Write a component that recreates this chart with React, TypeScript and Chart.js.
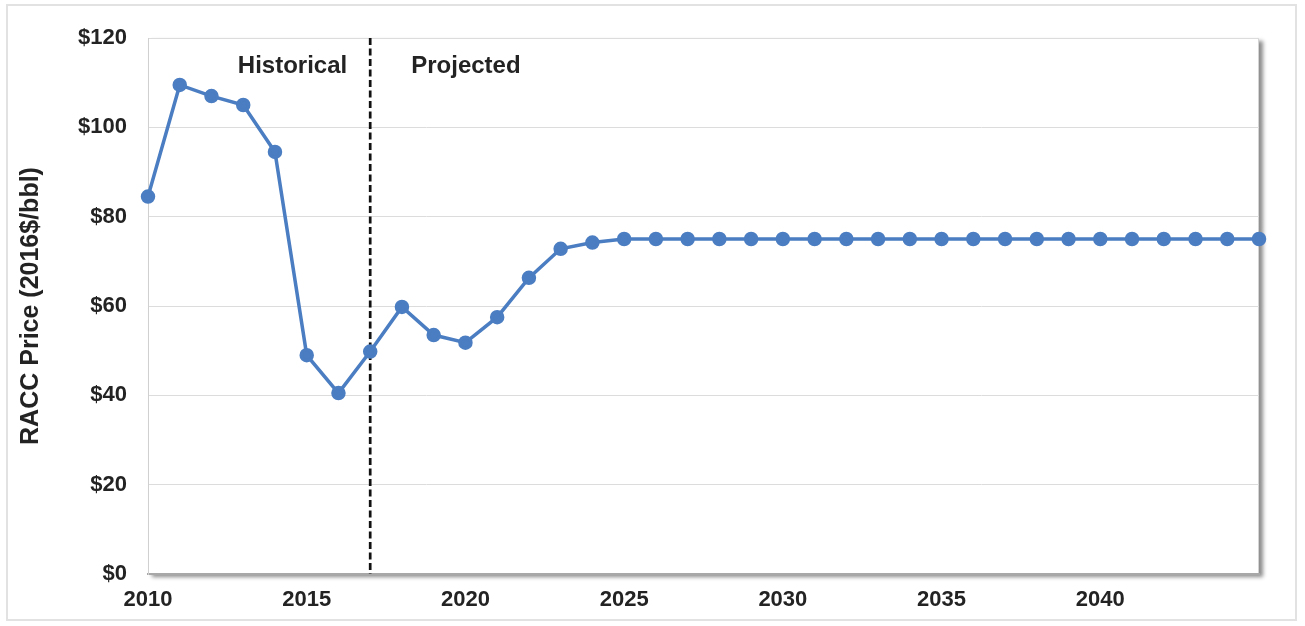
import React, { useEffect, useRef } from "react";
import { Chart, registerables } from "chart.js";

Chart.register(...registerables);

// Refiners' acquisition cost of crude oil, annual values
const years = [
  2010, 2011, 2012, 2013, 2014, 2015, 2016, 2017, 2018, 2019, 2020, 2021,
  2022, 2023, 2024, 2025, 2026, 2027, 2028, 2029, 2030, 2031, 2032, 2033,
  2034, 2035, 2036, 2037, 2038, 2039, 2040, 2041, 2042, 2043, 2044, 2045,
];
const racc = [
  84.5, 109.5, 107, 105, 94.5, 49, 40.5, 49.8, 59.8, 53.5, 51.8, 57.5,
  66.3, 72.8, 74.2, 75, 75, 75, 75, 75, 75, 75, 75, 75,
  75, 75, 75, 75, 75, 75, 75, 75, 75, 75, 75, 75,
];
const splitYear = 2017;
const historicalLabel = "Historical";
const projectedLabel = "Projected";
const yTitle = "RACC Price (2016$/bbl)";

const FONT = "'Liberation Sans', Arial, sans-serif";
const TEXT = "#232323";
const BLUE = "#4a7dc1";

const framePlugin = {
  id: "frame",
  beforeDraw(chart: any) {
    const { ctx, chartArea: a, width, height } = chart;
    ctx.save();
    ctx.fillStyle = "#ffffff";
    ctx.fillRect(0, 0, width, height);
    // outer frame
    ctx.strokeStyle = "#e2e2e2";
    ctx.lineWidth = 2;
    ctx.strokeRect(7, 5, 1289, 615);
    // plot area with a soft drop shadow
    ctx.shadowColor = "rgba(0,0,0,0.45)";
    ctx.shadowBlur = 4;
    ctx.shadowOffsetX = 4;
    ctx.shadowOffsetY = 3;
    ctx.fillStyle = "#ffffff";
    ctx.fillRect(a.left, a.top, a.right - a.left, a.bottom - a.top);
    ctx.restore();
    ctx.save();
    ctx.strokeStyle = "#d4d4d4";
    ctx.lineWidth = 1;
    ctx.strokeRect(a.left + 0.5, a.top + 0.5, a.right - a.left - 1, a.bottom - a.top - 1);
    ctx.restore();
  },
  beforeDatasetsDraw(chart: any) {
    const { ctx, chartArea: a, scales } = chart;
    const x = scales.x.getPixelForValue(splitYear);
    ctx.save();
    ctx.strokeStyle = "#111111";
    ctx.lineWidth = 2.7;
    ctx.setLineDash([7, 3.5]);
    ctx.beginPath();
    ctx.moveTo(x, a.top);
    ctx.lineTo(x, a.bottom);
    ctx.stroke();
    ctx.setLineDash([]);
    ctx.fillStyle = TEXT;
    ctx.font = `bold 24px ${FONT}`;
    ctx.textBaseline = "middle";
    ctx.textAlign = "right";
    ctx.fillText(historicalLabel, x - 23, a.top + 28);
    ctx.textAlign = "left";
    ctx.fillText(projectedLabel, x + 41, a.top + 28);
    ctx.restore();
  },
};

export default function App() {
  const ref = useRef<HTMLCanvasElement | null>(null);

  useEffect(() => {
    if (!ref.current) return;
    const chart = new Chart(ref.current, {
      type: "line",
      data: {
        datasets: [
          {
            data: years.map((y, i) => ({ x: y, y: racc[i] })),
            borderColor: BLUE,
            backgroundColor: BLUE,
            borderWidth: 3.5,
            pointRadius: 5.5,
            pointHoverRadius: 5.5,
            pointBackgroundColor: BLUE,
            pointBorderColor: BLUE,
            tension: 0,
            clip: false,
          },
        ],
      },
      options: {
        animation: false,
        responsive: false,
        maintainAspectRatio: false,
        layout: { padding: { left: 0, top: 38, right: 46, bottom: 0 } },
        plugins: {
          legend: { display: false },
          tooltip: { enabled: false },
        },
        scales: {
          x: {
            type: "linear",
            min: 2010,
            max: 2045,
            afterFit: (s: any) => {
              s.height = 52;
            },
            grid: { display: false, drawTicks: false },
            border: { display: true, color: "#a8a8a8", width: 2 },
            ticks: {
              stepSize: 5,
              autoSkip: false,
              maxRotation: 0,
              padding: 13,
              color: TEXT,
              font: { family: FONT, size: 22, weight: "bold" },
              callback: (v: any) => (v === 2045 ? "" : String(v)),
            },
          },
          y: {
            min: 0,
            max: 120,
            afterFit: (s: any) => {
              s.width = 148;
            },
            grid: { color: "#dcdcdc", lineWidth: 1, drawTicks: false },
            border: { display: true, color: "#d0d0d0", width: 1 },
            ticks: {
              stepSize: 20,
              padding: 21,
              color: TEXT,
              font: { family: FONT, size: 22, weight: "bold" },
              callback: (v: any) => "$" + v,
            },
            title: {
              display: true,
              text: yTitle,
              color: TEXT,
              padding: { top: 16, bottom: 0 },
              font: { family: FONT, size: 25, weight: "bold" },
            },
          },
        },
      },
      plugins: [framePlugin],
    });
    return () => chart.destroy();
  }, []);

  return (
    <div style={{ position: "absolute", left: 0, top: 0, width: 1305, height: 626 }}>
      <canvas ref={ref} width={1305} height={626} style={{ width: 1305, height: 626, display: "block" }} />
    </div>
  );
}
